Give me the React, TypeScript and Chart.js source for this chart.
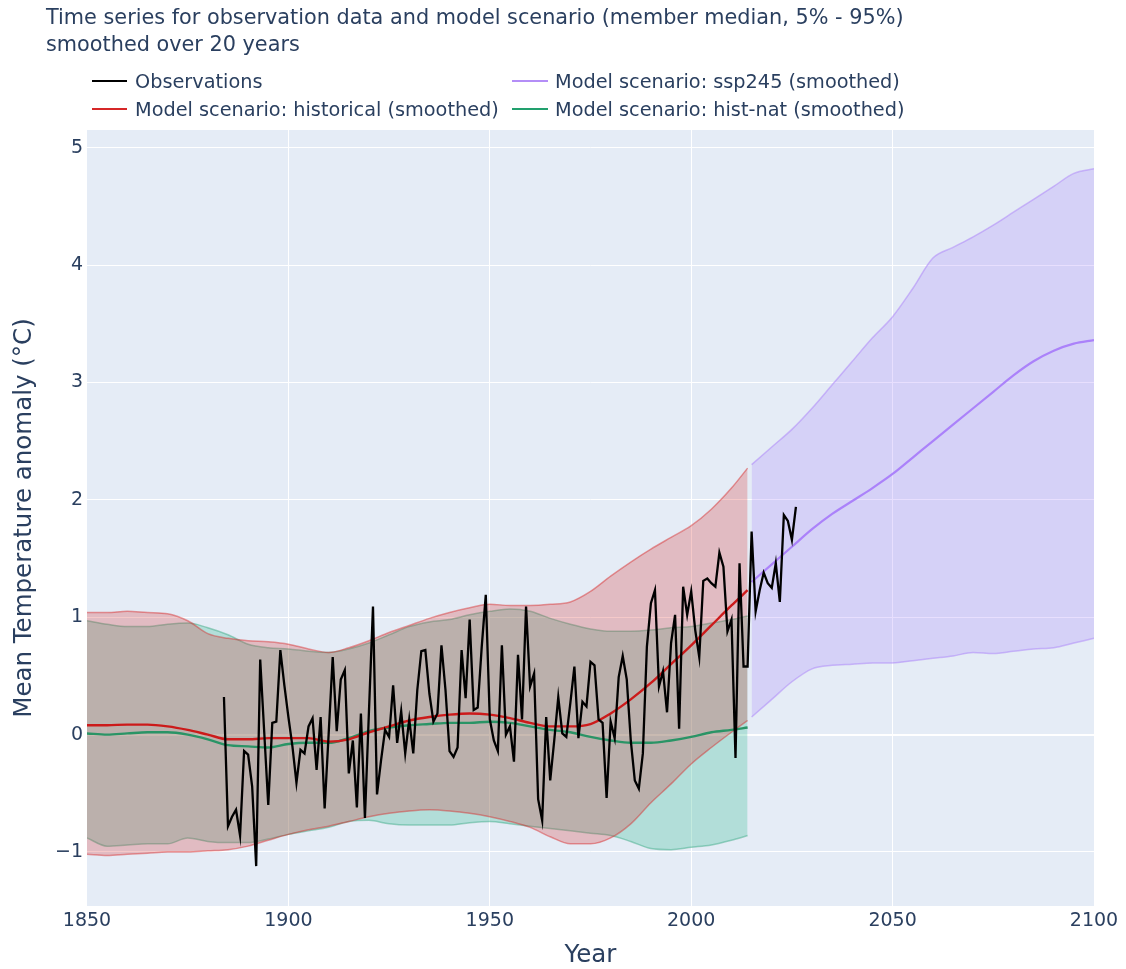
import React, { useEffect, useRef } from "react";
import { Chart, registerables } from "chart.js";

Chart.register(...registerables);

// ---------- data ----------
const OBS_START_YEAR = 1884;
const obsValues = [
  0.32, -0.78, -0.7, -0.64, -0.86, -0.14,
  -0.17, -0.44, -1.12, 0.64, 0.02, -0.6, 0.1, 0.11, 0.72, 0.42,
  0.15, -0.1, -0.41, -0.13, -0.16, 0.07, 0.14, -0.3, 0.15, -0.63,
  0.01, 0.66, 0.03, 0.47, 0.55, -0.33, -0.05, -0.62, 0.18, -0.71,
  0.2, 1.09, -0.51, -0.22, 0.04, -0.02, 0.42, -0.07, 0.2, -0.16,
  0.13, -0.16, 0.38, 0.71, 0.72, 0.35, 0.11, 0.18, 0.76, 0.38,
  -0.14, -0.19, -0.11, 0.72, 0.31, 0.98, 0.21, 0.23, 0.75, 1.19,
  0.13, -0.05, -0.14, 0.76, 0.0, 0.07, -0.23, 0.68, 0.13, 1.09,
  0.41, 0.52, -0.55, -0.73, 0.15, -0.39, -0.05, 0.32, 0.01, -0.02,
  0.27, 0.58, -0.03, 0.28, 0.24, 0.62, 0.59, 0.13, 0.1, -0.54,
  0.11, -0.03, 0.49, 0.67, 0.47, -0.05, -0.39, -0.46, -0.16, 0.75,
  1.12, 1.23, 0.41, 0.54, 0.19, 0.78, 1.02, 0.05, 1.26, 1.02,
  1.22, 0.89, 0.66, 1.31, 1.33, 1.29, 1.26, 1.55, 1.43, 0.88,
  0.98, -0.2, 1.46, 0.58, 0.58, 1.73, 1.05, 1.23, 1.38, 1.29,
  1.25, 1.46, 1.13, 1.87, 1.82, 1.66, 1.94,
];
const obsYears = obsValues.map((_, i) => OBS_START_YEAR + i);

const histYears = [
  1850, 1855, 1860, 1865, 1870, 1875, 1880, 1885, 1890, 1895,
  1900, 1905, 1910, 1915, 1920, 1925, 1930, 1935, 1940, 1945,
  1950, 1955, 1960, 1965, 1970, 1975, 1980, 1985, 1990, 1995,
  2000, 2005, 2010, 2014,
];
const histMedian = [
  0.08, 0.08, 0.085, 0.085, 0.07, 0.04, 0.0, -0.04, -0.04, -0.03,
  -0.03, -0.03, -0.06, -0.04, 0.02, 0.07, 0.12, 0.15, 0.17, 0.18,
  0.17, 0.14, 0.1, 0.07, 0.07, 0.09, 0.18, 0.3, 0.44, 0.6,
  0.76, 0.93, 1.1, 1.23,
];
const histUpper = [
  1.04, 1.04, 1.05, 1.04, 1.03, 0.97, 0.86, 0.82, 0.8, 0.79,
  0.77, 0.73, 0.7, 0.74, 0.8, 0.87, 0.93, 0.99, 1.04, 1.08,
  1.11, 1.1, 1.1, 1.11, 1.13, 1.22, 1.35, 1.47, 1.58, 1.68,
  1.78, 1.92, 2.1, 2.27,
];
const histLower = [
  -1.02, -1.03, -1.02, -1.01, -1.0, -1.0, -0.99, -0.98, -0.95, -0.9,
  -0.85, -0.81, -0.78, -0.74, -0.7, -0.67, -0.65, -0.64, -0.65, -0.67,
  -0.7, -0.74, -0.79, -0.87, -0.93, -0.93, -0.88, -0.76, -0.58, -0.42,
  -0.25, -0.11, 0.02, 0.12,
];
const natMedian = [
  0.01, 0.0, 0.01, 0.02, 0.02, 0.0, -0.04, -0.09, -0.1, -0.11,
  -0.08, -0.07, -0.07, -0.03, 0.03, 0.06, 0.08, 0.09, 0.1, 0.1,
  0.11, 0.1, 0.07, 0.04, 0.02, -0.02, -0.05, -0.07, -0.07, -0.05,
  -0.02, 0.02, 0.04, 0.06,
];
const natUpper = [
  0.97, 0.94, 0.92, 0.92, 0.94, 0.95, 0.91, 0.85, 0.77, 0.74,
  0.73, 0.71, 0.7, 0.73, 0.78, 0.85, 0.92, 0.96, 0.98, 1.02,
  1.05, 1.07, 1.05, 0.99, 0.94, 0.9, 0.88, 0.88, 0.89, 0.91,
  0.92, 0.95, 0.98, 1.01,
];
const natLower = [
  -0.88, -0.95, -0.94, -0.93, -0.93, -0.88, -0.91, -0.92, -0.92, -0.89,
  -0.85, -0.82, -0.79, -0.74, -0.73, -0.76, -0.77, -0.77, -0.77, -0.75,
  -0.74, -0.76, -0.78, -0.8, -0.82, -0.84, -0.86, -0.91, -0.97, -0.98,
  -0.96, -0.94, -0.9, -0.86,
];

const sspYears = [
  2015, 2020, 2025, 2030, 2035, 2040, 2045, 2050, 2055, 2060,
  2065, 2070, 2075, 2080, 2085, 2090, 2095, 2100,
];
const sspMedian = [
  1.3, 1.45, 1.6, 1.75, 1.88, 1.99, 2.1, 2.22, 2.36, 2.5,
  2.64, 2.78, 2.92, 3.06, 3.18, 3.27, 3.33, 3.36,
];
const sspUpper = [
  2.3, 2.45, 2.6, 2.78, 2.98, 3.18, 3.38, 3.56, 3.8, 4.06,
  4.15, 4.24, 4.34, 4.45, 4.56, 4.67, 4.78, 4.82,
];
const sspLower = [
  0.15, 0.3, 0.45, 0.56, 0.59, 0.6, 0.61, 0.61, 0.63, 0.65,
  0.67, 0.7, 0.69, 0.71, 0.73, 0.74, 0.78, 0.82,
];

const xTicks = [1850, 1900, 1950, 2000, 2050, 2100];
const yTicks = [-1, 0, 1, 2, 3, 4, 5];

const titleLines = [
  "Time series for observation data and model scenario (member median, 5% - 95%)",
  "smoothed over 20 years",
];
const legendItems = [
  { label: "Observations", color: "#000000", col: 0, row: 0 },
  { label: "Model scenario: historical (smoothed)", color: "#d62728", col: 0, row: 1 },
  { label: "Model scenario: ssp245 (smoothed)", color: "#b48ef7", col: 1, row: 0 },
  { label: "Model scenario: hist-nat (smoothed)", color: "#22a06e", col: 1, row: 1 },
];

// ---------- styling ----------
const FONT = "'DejaVu Sans', Verdana, sans-serif";
const TEXT = "#2a3f5f";
const W = 1126;
const H = 969;

const pts = (xs: number[], ys: number[]) => xs.map((x, i) => ({ x, y: ys[i] }));

const bgPlugin = {
  id: "plotBg",
  beforeDraw(chart: any) {
    const { ctx, chartArea } = chart;
    if (!chartArea) return;
    ctx.save();
    ctx.fillStyle = "#E5ECF6";
    ctx.fillRect(chartArea.left, chartArea.top, chartArea.right - chartArea.left, chartArea.bottom - chartArea.top);
    ctx.restore();
  },
};

export default function App() {
  const ref = useRef<HTMLCanvasElement | null>(null);

  useEffect(() => {
    if (!ref.current) return;
    const smooth = { cubicInterpolationMode: "monotone" as const, pointRadius: 0 };
    const chart = new Chart(ref.current, {
      type: "line",
      data: {
        datasets: [
          {
            label: "Observations",
            data: pts(obsYears, obsValues),
            borderColor: "#000000",
            borderWidth: 2.3,
            pointRadius: 0,
            fill: false,
            order: 0,
          },
          {
            label: "ssp245 median",
            data: pts(sspYears, sspMedian),
            borderColor: "rgb(171,130,250)",
            borderWidth: 2.2,
            fill: false,
            order: 1,
            ...smooth,
          },
          {
            label: "historical median",
            data: pts(histYears, histMedian),
            borderColor: "#cc1a1a",
            borderWidth: 2.4,
            fill: false,
            order: 2,
            ...smooth,
          },
          {
            label: "hist-nat median",
            data: pts(histYears, natMedian),
            borderColor: "#2a9466",
            borderWidth: 2.4,
            fill: false,
            order: 3,
            ...smooth,
          },
          {
            label: "ssp245 95%",
            data: pts(sspYears, sspUpper),
            borderColor: "rgba(171,130,250,0.5)",
            borderWidth: 1.5,
            backgroundColor: "rgba(171,135,250,0.27)",
            fill: "+1",
            order: 4,
            ...smooth,
          },
          {
            label: "ssp245 5%",
            data: pts(sspYears, sspLower),
            borderColor: "rgba(171,130,250,0.5)",
            borderWidth: 1.5,
            fill: false,
            order: 4,
            ...smooth,
          },
          {
            label: "historical 95%",
            data: pts(histYears, histUpper),
            borderColor: "rgba(214,39,40,0.45)",
            borderWidth: 1.5,
            backgroundColor: "rgba(214,39,40,0.25)",
            fill: "+1",
            order: 5,
            ...smooth,
          },
          {
            label: "historical 5%",
            data: pts(histYears, histLower),
            borderColor: "rgba(214,39,40,0.45)",
            borderWidth: 1.5,
            fill: false,
            order: 5,
            ...smooth,
          },
          {
            label: "hist-nat 95%",
            data: pts(histYears, natUpper),
            borderColor: "rgba(50,165,125,0.45)",
            borderWidth: 1.5,
            backgroundColor: "rgba(60,190,150,0.3)",
            fill: "+1",
            order: 6,
            ...smooth,
          },
          {
            label: "hist-nat 5%",
            data: pts(histYears, natLower),
            borderColor: "rgba(50,165,125,0.45)",
            borderWidth: 1.5,
            fill: false,
            order: 6,
            ...smooth,
          },
        ],
      },
      options: {
        responsive: false,
        animation: false,
        devicePixelRatio: 1,
        layout: { padding: { top: 130, right: 32, left: 0, bottom: 0 } },
        plugins: {
          legend: { display: false },
          title: { display: false },
          tooltip: { enabled: false },
        },
        scales: {
          x: {
            type: "linear",
            min: 1850,
            max: 2100,
            afterBuildTicks: (s: any) => {
              s.ticks = xTicks.map((v) => ({ value: v }));
            },
            afterFit: (s: any) => {
              s.height = H - 906;
            },
            border: { display: false },
            grid: {
              drawTicks: false,
              lineWidth: 1,
              color: (c: any) =>
                c.tick && (c.tick.value === 1850 || c.tick.value === 2100) ? "rgba(0,0,0,0)" : "#ffffff",
            },
            ticks: {
              autoSkip: false,
              maxRotation: 0,
              padding: 4,
              color: TEXT,
              font: { family: FONT, size: 19 },
              callback: (v: any) => String(v),
            },
            title: {
              display: true,
              text: "Year",
              color: TEXT,
              font: { family: FONT, size: 24.5, lineHeight: 1 },
              padding: { top: 0, bottom: 1 },
            },
          },
          y: {
            type: "linear",
            min: -1.46,
            max: 5.15,
            afterBuildTicks: (s: any) => {
              s.ticks = yTicks.map((v) => ({ value: v }));
            },
            afterFit: (s: any) => {
              s.width = 87;
            },
            border: { display: false },
            grid: {
              drawTicks: false,
              color: "#ffffff",
              lineWidth: (c: any) => (c.tick && c.tick.value === 0 ? 2 : 1),
            },
            ticks: {
              padding: 4,
              color: TEXT,
              font: { family: FONT, size: 19 },
              callback: (v: any) => (Number(v) < 0 ? "\u2212" + String(Math.abs(Number(v))) : String(v)),
            },
            title: {
              display: true,
              text: "Mean Temperature anomaly (\u00B0C)",
              color: TEXT,
              font: { family: FONT, size: 24.5, lineHeight: 1 },
              padding: { top: 12, bottom: 0 },
            },
          },
        },
      },
      plugins: [bgPlugin],
    } as any);
    return () => chart.destroy();
  }, []);

  const legendFont = 19.3;
  const colX = [
    { line: 92, lineW: 35, text: 135 },
    { line: 512, lineW: 36, text: 555 },
  ];
  const rowBase = [88.3, 116];

  return (
    <div
      style={{
        position: "absolute",
        left: 0,
        top: 0,
        width: W,
        height: H,
        background: "#ffffff",
        fontFamily: FONT,
        color: TEXT,
        overflow: "hidden",
      }}
    >
      <canvas ref={ref} width={W} height={H} style={{ position: "absolute", left: 0, top: 0, width: W, height: H }} />
      <div
        style={{
          position: "absolute",
          left: 46,
          top: 4,
          fontSize: 20.8,
          lineHeight: "26.5px",
          whiteSpace: "pre",
        }}
      >
        {titleLines.join("\n")}
      </div>
      {legendItems.map((it) => {
        const c = colX[it.col];
        const base = rowBase[it.row];
        return (
          <React.Fragment key={it.label}>
            <div
              style={{
                position: "absolute",
                left: c.line,
                top: base - 8.5,
                width: c.lineW,
                height: 2.5,
                background: it.color,
              }}
            />
            <div
              style={{
                position: "absolute",
                left: c.text,
                top: base - 0.846 * legendFont,
                fontSize: legendFont,
                lineHeight: `${legendFont}px`,
                whiteSpace: "pre",
              }}
            >
              {it.label}
            </div>
          </React.Fragment>
        );
      })}
    </div>
  );
}
